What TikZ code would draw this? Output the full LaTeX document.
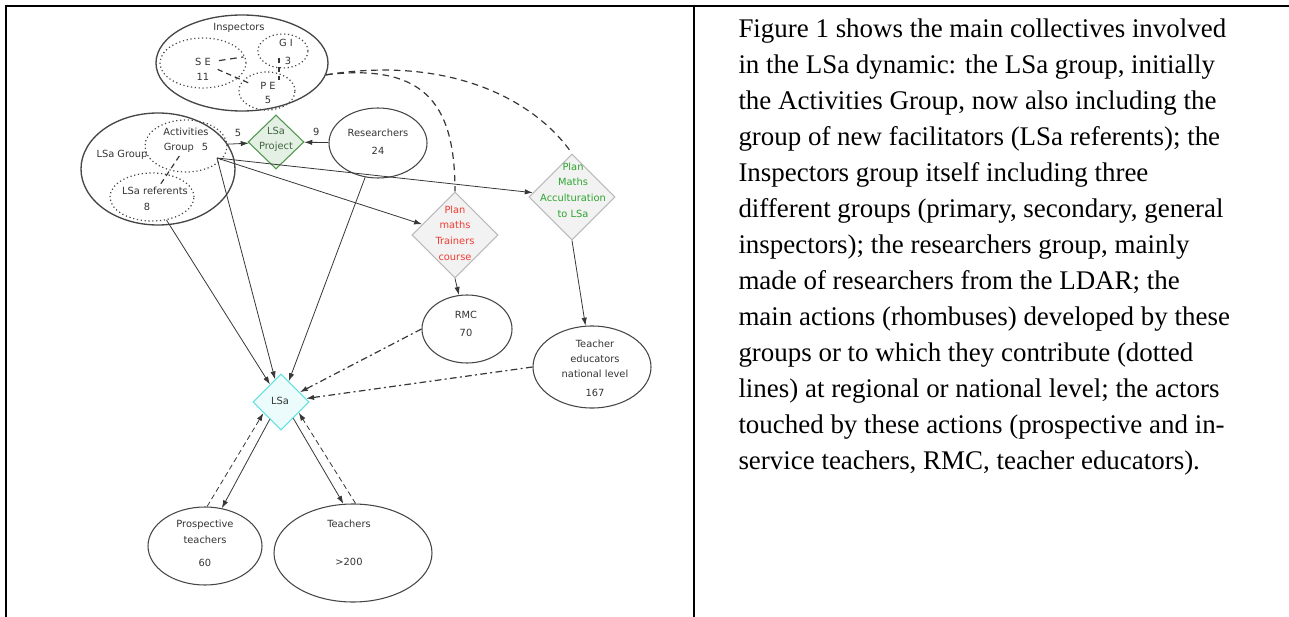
\documentclass[tikz,border=0pt]{standalone}
\usepackage{fontspec}
\setmainfont{Liberation Serif}
\newfontfamily\diagfont{DejaVu Sans}
\usetikzlibrary{shapes.geometric,arrows.meta}

\definecolor{edgegray}{RGB}{55,55,55}
\definecolor{ringgray}{RGB}{70,70,70}
\definecolor{plangray}{RGB}{185,185,185}
\definecolor{planfill}{RGB}{242,242,242}
\definecolor{trainred}{RGB}{240,60,50}
\definecolor{accgreen}{RGB}{45,165,45}
\definecolor{projline}{RGB}{80,150,80}
\definecolor{projfill}{RGB}{228,240,228}
\definecolor{projtext}{RGB}{65,100,65}
\definecolor{lsaline}{RGB}{95,225,225}
\definecolor{lsafill}{RGB}{236,252,252}

\tikzset{every picture/.style={line width=0.75pt}}
\tikzset{
  grp/.style={ellipse, draw=ringgray, line width=0.8pt, inner sep=0pt},
  subgrp/.style={ellipse, draw=ringgray, dotted, line width=0.9pt, inner sep=0pt},
  action/.style={diamond, inner sep=0pt, line width=0.8pt},
  txt/.style={font=\diagfont\fontsize{7.4pt}{8.5pt}\selectfont, align=center, inner sep=0pt, text=black!80},
  flow/.style={draw=edgegray, line width=0.6pt, -{Latex[length=6pt,width=4pt]}},
  contrib/.style={draw=edgegray, line width=0.9pt, dash pattern=on 5pt off 3.5pt},
  linkdash/.style={draw=edgegray, line width=0.9pt, dash pattern=on 4pt off 3pt},
  reach/.style={draw=edgegray, line width=0.9pt, dash pattern=on 5pt off 2.5pt on 1.5pt off 2.5pt, -{Latex[length=6pt,width=4pt]}},
  back/.style={draw=edgegray, line width=0.6pt, dash pattern=on 4pt off 2.5pt, -{Latex[length=6pt,width=4pt]}},
}

\begin{document}
\begin{tikzpicture}[x=0.75pt,y=0.75pt,yscale=-1,xscale=1]
\useasboundingbox (0,0) rectangle (1289,617);
% Table frame
\draw[line width=1.5pt] (6,617) -- (6,6) -- (1289,6);
\draw[line width=1.5pt] (694,6) -- (694,617);

% Shape: Ellipse (inspectors and their groups)
\node[grp, line width=1pt, minimum width=129pt, minimum height=72pt] (insp) at (242,63) {};
\node[subgrp, minimum width=64.5pt, minimum height=37.5pt] (se) at (203,63) {};
\node[subgrp, minimum width=37.5pt, minimum height=25.5pt] (gi) at (283,51) {};
\node[subgrp, minimum width=42pt, minimum height=28.5pt] (pe) at (267,91) {};
% Text Node
\node[txt] (insptxt) at (239,28) {Inspectors};
\node[txt] (setxt) at (203,69) {S E\\[2.75pt]11};
\node[txt] (gitxt) at (286,52) {G I\\[5pt]\hspace*{3pt}3};
\node[txt] (petxt) at (268,93) {P E\\[2pt]5};

% Shape: Ellipse (LSa group)
\node[grp, line width=1pt, minimum width=115.5pt, minimum height=84pt] (lsagrp) at (158,169) {};
\node[subgrp, minimum width=61.5pt, minimum height=39pt] (activ) at (186,146) {};
\node[subgrp, minimum width=63pt, minimum height=36pt] (refer) at (152,197) {};
% Text Node
\node[txt] (lsagrptxt) at (122,155) {LSa Group};
\node[txt] (activtxt) at (186,140) {Activities\\[2.75pt]Group\hspace{6pt}5};
\node[txt] (refertxt) at (155,199) {LSa referents\\[3.5pt]8\hspace*{12pt}};
\coordinate (activout) at (217,158);

% Shape: Ellipse (other collectives)
\node[grp, minimum width=73.5pt, minimum height=52.5pt] (resea) at (378,143) {};
\node[grp, minimum width=67.5pt, minimum height=51pt] (rmc) at (467,329) {};
\node[grp, minimum width=88.5pt, minimum height=61.5pt] (tedu) at (592,367) {};
\node[grp, minimum width=85.5pt, minimum height=58.5pt] (prosp) at (205,546) {};
\node[grp, minimum width=118.5pt, minimum height=73.5pt] (teach) at (353,553) {};
% Text Node
\node[txt] (reseatxt) at (378,142) {Researchers\\[5pt]24};
\node[txt] (rmctxt) at (466,324) {RMC\\[5pt]70};
\node[txt] (tedutxt) at (595,368) {Teacher\\[3pt]educators\\[3pt]national level\\[5.5pt]167};
\node[txt] (prosptxt) at (205,543) {Prospective\\[4pt]teachers\\[8.5pt]60};
\node[txt] (teachtxt) at (349,543) {Teachers\\[20pt]>200};

% Shape: Diamond (actions)
\node[action, draw=projline, fill=projfill, minimum width=42pt, minimum height=40.5pt] (proj) at (276,142) {};
\node[action, draw=plangray, fill=planfill, minimum width=64.5pt, minimum height=64.5pt] (train) at (455,235) {};
\node[action, draw=plangray, fill=planfill, minimum width=64.5pt, minimum height=64.5pt] (accul) at (572,197) {};
\node[action, draw=lsaline, fill=lsafill, minimum width=42pt, minimum height=42pt] (lsa) at (281,402) {};
% Text Node
\node[txt, text=projtext] (projtxt) at (276,139) {LSa\\[2.75pt]Project};
\node[txt, text=trainred] (traintxt) at (455,233) {Plan\\[3.25pt]maths\\[3.25pt]Trainers\\[3.25pt]course};
\node[txt, text=accgreen] (acultxt) at (573,190) {Plan\\[3.25pt]Maths\\[3.25pt]Acculturation\\[3.25pt]to LSa};
\node[txt] (lsatxt) at (280,401) {LSa};

% Connectors
\draw[contrib] (se) -- (gi) [shorten <=20pt, shorten >=11pt];
\draw[linkdash, shorten <=12pt, shorten >=15pt] (se.center) -- (pe.center);
\draw[linkdash, shorten <=5pt, shorten >=8pt] ([xshift=-3pt]gi.center) -- ([xshift=9pt]pe.center);
\draw[linkdash, shorten <=9pt, shorten >=11pt] (activ.center) -- (refer.center);
\draw[contrib] (insp.-8) .. controls (430,62) and (455,110) .. (train.north);
\draw[contrib] (insp.-8) .. controls (450,55) and (535,100) .. (accul.north);

\draw[flow] (activ) -- node[txt, above=5pt] (fivetxt) {5} (proj);
\draw[flow] (resea) -- node[txt, above=5pt] (ninetxt) {9} (proj);
\draw[flow] (activout) -- (train);
\draw[flow] (activout) -- (accul);
\draw[flow] (activout) -- (lsa);
\draw[flow] (refer) -- (lsa);
\draw[flow] (resea) -- (lsa);
\draw[flow] (train.south) -- (rmc);
\draw[flow] (accul.south) -- (tedu);
\draw[reach] (rmc.west) -- (lsa);
\draw[reach] (tedu.west) -- (lsa);
\draw[flow] (lsa.237) -- (prosp.66);
\draw[back] (prosp.87) -- (lsa.212);
\draw[flow] (lsa.-53) -- (teach.101);
\draw[back] (teach.87) -- (lsa.-31);

% Text Node
\node[anchor=north west, inner sep=0pt, align=left, font=\fontsize{20.2pt}{27pt}\selectfont] (caption) at (738,18) {Figure 1 shows the main collectives involved\\
in the LSa dynamic: the LSa group, initially\\
the Activities Group, now also including the\\
group of new facilitators (LSa referents); the\\
Inspectors group itself including three\\
different groups (primary, secondary, general\\
inspectors); the researchers group, mainly\\
made of researchers from the LDAR; the\\
main actions (rhombuses) developed by these\\
groups or to which they contribute (dotted\\
lines) at regional or national level; the actors\\
touched by these actions (prospective and in-\\
service teachers, RMC, teacher educators).};
\end{tikzpicture}
\end{document}
